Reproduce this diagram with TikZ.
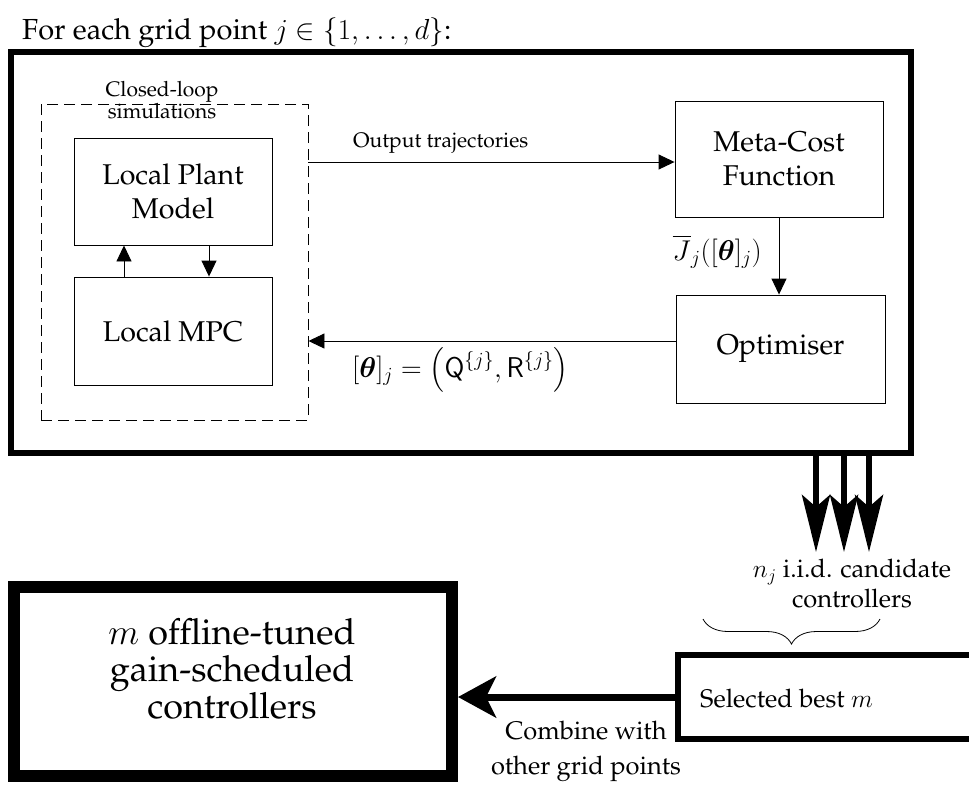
\RequirePackage{fix-cm}
\documentclass[tikz,border=0pt]{standalone}
\usepackage[T1]{fontenc}
\usepackage{amsmath}
\usepackage{palatino}
\usetikzlibrary{arrows.meta,decorations.pathreplacing}
\newcommand\fsTitle{\fontsize{29}{35}\selectfont}
\newcommand\fsBox{\fontsize{28.6}{34}\selectfont}
\newcommand\fsSmall{\fontsize{21}{22}\selectfont}
\newcommand\fsMid{\fontsize{25.5}{30}\selectfont}
\newcommand\fsComb{\fontsize{25.5}{35}\selectfont}
\newcommand\fsBig{\fontsize{36}{37}\selectfont}
\begin{document}
\begin{tikzpicture}[x=1pt,y=-1pt,
  thinbox/.style={draw,line width=0.9pt,inner sep=0pt,align=center,font=\fsBox},
  simbox/.style={draw,line width=0.9pt,dash pattern=on 11pt off 6pt,inner sep=0pt},
  tri/.style={-{Triangle[length=16pt,width=15pt]},line width=0.9pt},
  fatarrow/.style={-{Stealth[length=57pt,width=28pt,inset=12pt]},line width=6pt},
  combarrow/.style={-{Stealth[length=38pt,width=41pt,inset=10pt]},line width=7pt},
  lbl/.style={inner sep=0pt}]
\useasboundingbox (0,0) rectangle (969,785);

% title
\node[lbl,anchor=base west,font=\fsTitle] (title) at (22,39)
  {For each grid point $j \in \{1,\dots,d\}$:};

% outer frame
\node[draw,line width=6pt,inner sep=0pt,minimum width=900pt,minimum height=401pt] (outer) at (461,252.5) {};

% closed-loop simulations
\node[simbox,minimum width=267pt,minimum height=316pt] (sim) at (174.5,262) {};
\node[lbl,align=center,font=\fsSmall] (simlbl) at (162,100.5) {Closed-loop\\simulations};

\node[thinbox,minimum width=198pt,minimum height=107pt] (plant) at (173,191.5) {Local Plant\\Model};
\node[thinbox,minimum width=198pt,minimum height=108pt] (mpc) at (173,331) {Local MPC};

\node[thinbox,minimum width=208pt,minimum height=116pt] (meta) at (779,159) {Meta-Cost\\Function};
\node[thinbox,minimum width=209pt,minimum height=108pt] (opt) at (780.5,349) {Optimiser};

% inner loop arrows
\draw[tri] ([xshift=-49pt]mpc.north) -- ([xshift=-49pt]plant.south);
\draw[tri] ([xshift=36pt]plant.south) -- ([xshift=36pt]mpc.north);

% output trajectories
\coordinate (ot) at ([yshift=-3pt]meta.west);
\draw[tri] (sim.east |- ot) -- (ot);
\node[lbl,anchor=base west,font=\fsSmall] (otlbl) at (353,147) {Output trajectories};

% meta -> optimiser
\draw[tri] (meta.south) -- (meta.south |- opt.north);
\node[lbl,anchor=base east,font=\fsBox] (jlbl) at (762,260)
  {$\overline{J}_j([\boldsymbol{\theta}]_j)$};

% optimiser -> sim
\coordinate (th) at ([yshift=8pt]opt.west);
\draw[tri] (th) -- (sim.east |- th);
\node[lbl,anchor=base west,font=\fsBox] (thlbl) at (352,377)
  {$[\boldsymbol{\theta}]_j = \big(\mathsf{Q}^{\{j\}},\mathsf{R}^{\{j\}}\big)$};

% three candidate arrows
\coordinate (e1) at (816,552);
\coordinate (e2) at (844,552);
\coordinate (e3) at (869,552);
\draw[fatarrow] (outer.south -| e1) -- (e1);
\draw[fatarrow] (outer.south -| e2) -- (e2);
\draw[fatarrow] (outer.south -| e3) -- (e3);

\node[lbl,align=center,font=\fsMid] (cand) at (852,584)
  {$n_j$ i.i.d. candidate\\controllers};

% brace
\coordinate (br) at (880,619);
\coordinate (bl) at (703,619);
\draw[line width=0.8pt,decorate,decoration={brace,amplitude=25pt}] (br) -- (bl);

% selected box
\node[draw,line width=5.5pt,inner sep=0pt,minimum width=312pt,minimum height=84pt] (sel) at (834,697) {};
\node[lbl,anchor=base west,font=\fsMid] (sellbl) at (700,707) {Selected best $m$};

% final box
\node[draw,line width=12pt,inner sep=0pt,minimum width=438pt,minimum height=189pt] (final) at (233,681.5) {};
\node[lbl,align=center,font=\fsBig] (finallbl) at (232,669)
  {$m$ offline-tuned\\gain-scheduled\\controllers};

% combine arrow
\coordinate (ca) at (sel.west);
\draw[combarrow] (ca) -- (final.east |- ca);
\node[lbl,align=center,font=\fsComb] (comblbl) at (586,751)
  {Combine with\\other grid points};
\end{tikzpicture}
\end{document}
